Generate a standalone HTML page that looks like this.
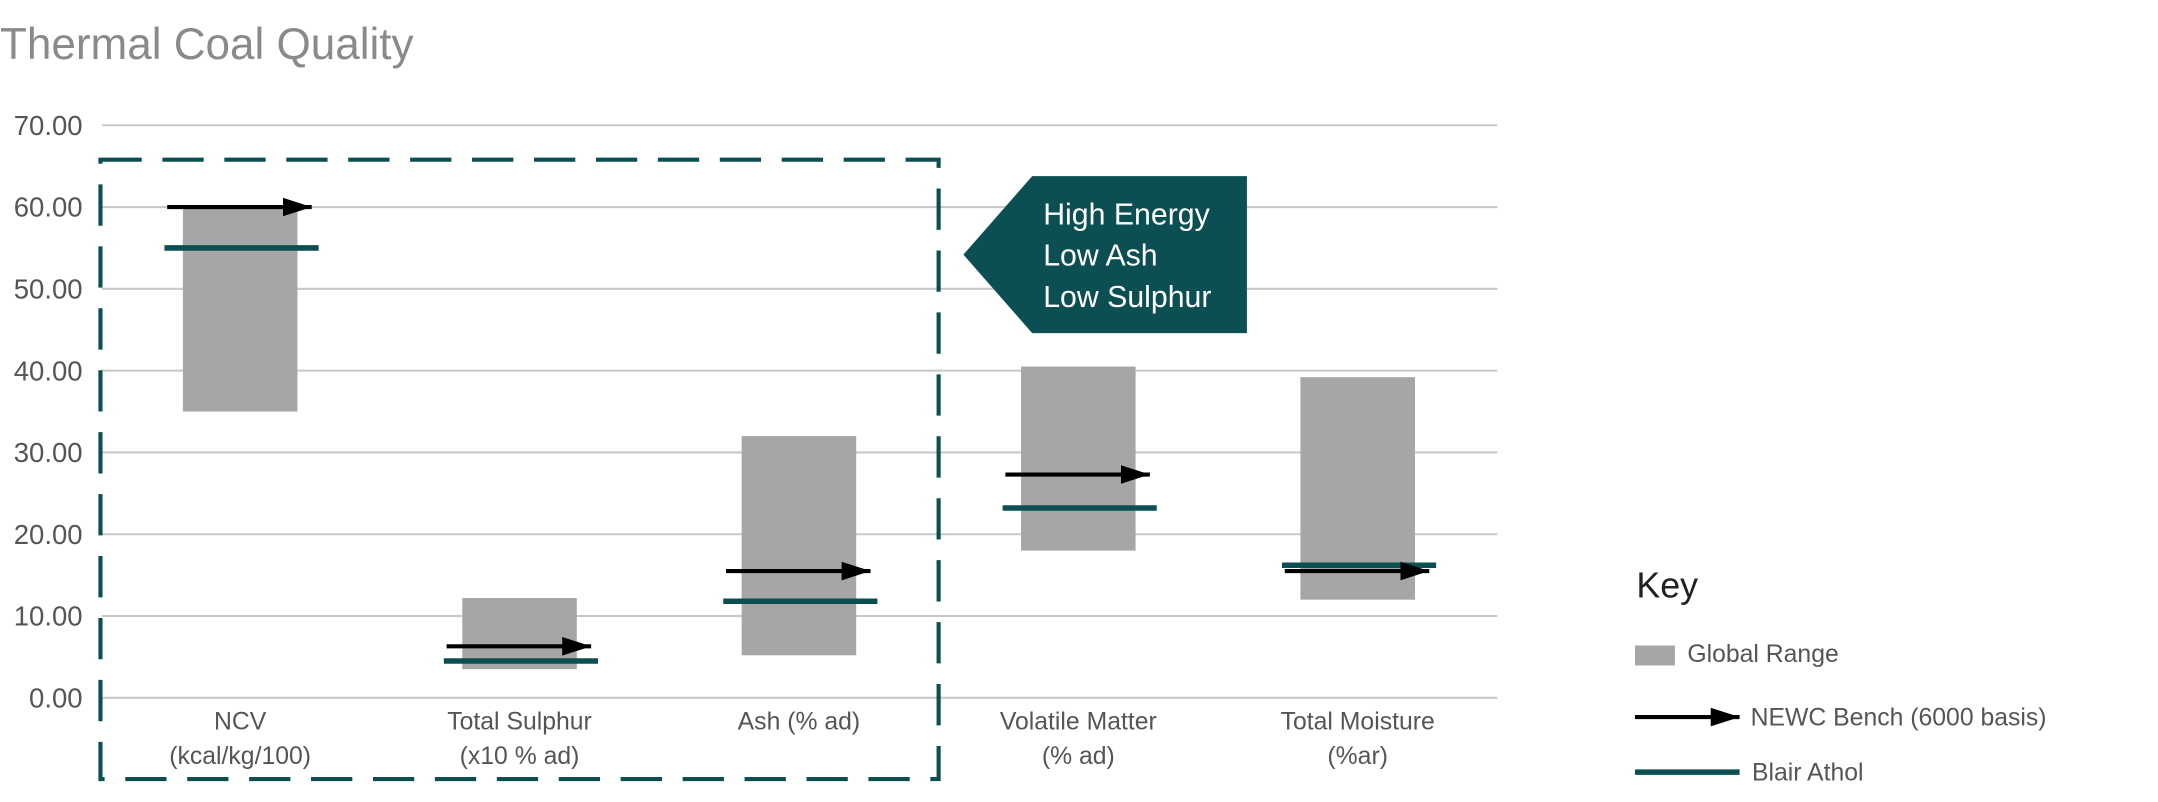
<!DOCTYPE html>
<html><head><meta charset="utf-8"><style>
body{margin:0;background:#fff;font-family:"Liberation Sans",sans-serif;overflow:hidden;}
svg{display:block;}
svg text{font-family:"Liberation Sans",sans-serif;}
</style></head><body>
<svg width="2158" height="802" viewBox="0 0 1568 582.7" preserveAspectRatio="none">
<defs><marker id="ah" viewBox="0 0 10 10" refX="10" refY="5" markerWidth="7" markerHeight="4.5" markerUnits="strokeWidth" orient="auto" preserveAspectRatio="none"><path d="M0,0L10,5L0,10z" fill="#000"/></marker></defs>
<text x="0" y="43" font-size="32" fill="#8a8a8a">Thermal Coal Quality</text>
<g id="grid"></g><g id="bars"></g>
<rect x="73" y="116" width="609" height="450" fill="none" stroke="#0b4f52" stroke-width="3" stroke-dasharray="30,15"/>
<g>
<polygon points="700,185 750,128 906,128 906,242 750,242" fill="#0b4f52"/>
<text x="758" y="163" font-size="22" fill="#fff">High Energy</text>
<text x="758" y="193" font-size="22" fill="#fff">Low Ash</text>
<text x="758" y="223" font-size="22" fill="#fff">Low Sulphur</text>
</g>
<g>
<text x="1189" y="434" font-size="26" fill="#222">Key</text>
<rect x="1188" y="469" width="29" height="14.5" fill="#a6a6a6"/>
<text x="1226" y="481" font-size="18" fill="#555">Global Range</text>
<line x1="1188" y1="521" x2="1264" y2="521" stroke="#000" stroke-width="3" marker-end="url(#ah)"/>
<text x="1272" y="527" font-size="18" fill="#555">NEWC Bench (6000 basis)</text>
<line x1="1188" y1="561" x2="1264" y2="561" stroke="#0b4f52" stroke-width="4"/>
<text x="1273" y="567" font-size="18" fill="#555">Blair Athol</text>
</g>
</svg>
<script>
const categories=[["NCV","(kcal/kg/100)"],["Total Sulphur","(x10 % ad)"],["Ash (% ad)",""],["Volatile Matter","(% ad)"],["Total Moisture","(%ar)"]];
const rangeLow=[35,3.5,5.2,18,12];
const rangeHigh=[60,12.2,32,40.5,39.2];
const newcBench=[60,6.3,15.5,27.3,15.5];
const blairAthol=[55,4.5,11.8,23.2,16.2];
const yTicks=[0,10,20,30,40,50,60,70];
const NS="http://www.w3.org/2000/svg";
const x0=73,x1=1088,yB=507,yT=91,yMax=70;
const y=v=>yB-(v/yMax)*(yB-yT);
const band=(x1-x0)/categories.length;
const xc=i=>x0+band*(i+0.5);
function mk(t,a,p){const e=document.createElementNS(NS,t);for(const k in a)e.setAttribute(k,a[k]);p.appendChild(e);return e;}
const grid=document.getElementById('grid'),bars=document.getElementById('bars');
yTicks.forEach(t=>{
 const l=mk('line',{x1:74,x2:x1,y1:y(t),y2:y(t),stroke:'#c8c8c8','stroke-width':1.5},grid);
 
 
 const tx=mk('text',{x:60,y:y(t)+7,'text-anchor':'end','font-size':20,fill:'#555'},grid);
 tx.textContent=t.toFixed(2);
 
 
});
const bw=band*0.41;
categories.forEach((c,i)=>{
 const cx=xc(i);
 const r=mk('rect',{x:cx-bw/2,y:y(rangeHigh[i]),width:bw,height:y(rangeLow[i])-y(rangeHigh[i]),fill:'#a6a6a6'},bars);
 
 
 const b=mk('line',{x1:cx-55,x2:cx+57,y1:y(blairAthol[i]),y2:y(blairAthol[i]),stroke:'#0b4f52','stroke-width':4},bars);
 
 
 const a=mk('line',{x1:cx-53,x2:cx+52,y1:y(newcBench[i]),y2:y(newcBench[i]),stroke:'#000','stroke-width':3,'marker-end':'url(#ah)'},bars);
 
 
 c.forEach((s,j)=>{if(!s)return;
  const t=mk('text',{x:cx,y:530+j*25,'text-anchor':'middle','font-size':18,fill:'#555'},bars);
  t.textContent=s;
  
  
 });
});
</script>
</body></html>
